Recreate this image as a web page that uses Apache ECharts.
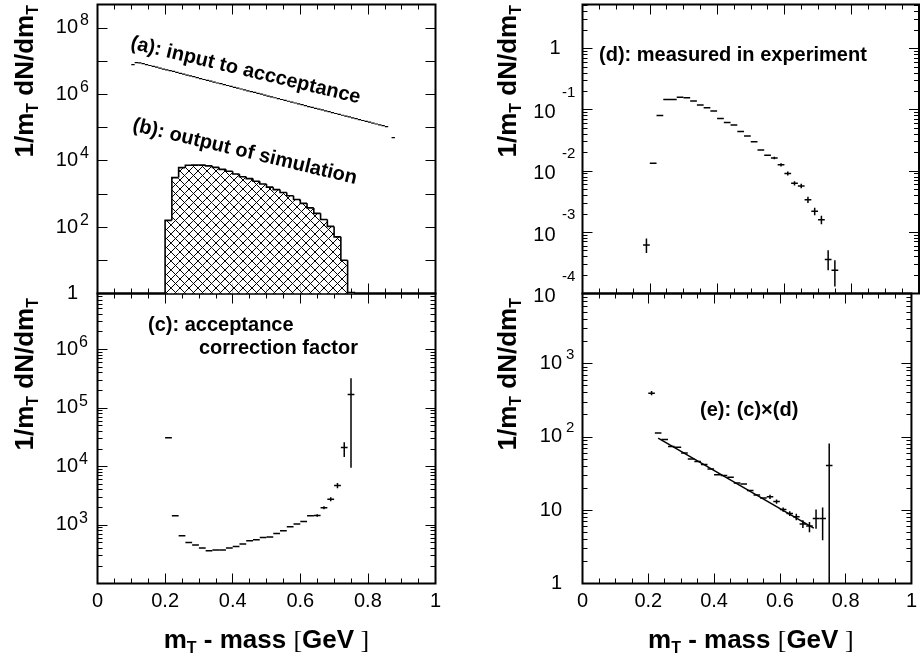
<!DOCTYPE html>
<html lang="en">
<head>
<meta charset="UTF-8">
<title>m_T spectra - acceptance correction</title>
<style>
  * { margin: 0; padding: 0; }
  body { background: #ffffff; }
  #chart { width: 920px; height: 660px; }
</style>
</head>
<body>
<div id="chart"></div>
<script src="https://cdn.jsdelivr.net/npm/echarts@6/dist/echarts.min.js"></script>
<script>
// (a) input to acceptance: low bin edges (bin width 0.01) and contents
var aEdge = [0.10, 0.11, 0.12, 0.13, 0.14, 0.15, 0.16, 0.17, 0.18, 0.19,
  0.20, 0.21, 0.22, 0.23, 0.24, 0.25, 0.26, 0.27, 0.28, 0.29,
  0.30, 0.31, 0.32, 0.33, 0.34, 0.35, 0.36, 0.37, 0.38, 0.39,
  0.40, 0.41, 0.42, 0.43, 0.44, 0.45, 0.46, 0.47, 0.48, 0.49,
  0.50, 0.51, 0.52, 0.53, 0.54, 0.55, 0.56, 0.57, 0.58, 0.59,
  0.60, 0.61, 0.62, 0.63, 0.64, 0.65, 0.66, 0.67, 0.68, 0.69,
  0.70, 0.71, 0.72, 0.73, 0.74, 0.75, 0.76, 0.77, 0.78, 0.79,
  0.80, 0.81, 0.82, 0.83, 0.84, 0.85, 0.87];
var aVal = [7.9e6, 9.0e6, 8.9e6, 8.4e6, 7.9e6, 7.4e6, 7.0e6, 6.6e6, 6.2e6, 5.8e6,
  5.5e6, 5.2e6, 4.9e6, 4.6e6, 4.3e6, 4.05e6, 3.8e6, 3.6e6, 3.4e6, 3.2e6,
  3.0e6, 2.8e6, 2.65e6, 2.5e6, 2.35e6, 2.2e6, 2.1e6, 1.96e6, 1.85e6, 1.73e6,
  1.63e6, 1.54e6, 1.45e6, 1.36e6, 1.28e6, 1.21e6, 1.14e6, 1.07e6, 1.01e6, 9.5e5,
  8.9e5, 8.4e5, 7.9e5, 7.4e5, 7.0e5, 6.6e5, 6.2e5, 5.8e5, 5.5e5, 5.2e5,
  4.9e5, 4.6e5, 4.3e5, 4.05e5, 3.8e5, 3.6e5, 3.4e5, 3.2e5, 3.0e5, 2.8e5,
  2.65e5, 2.5e5, 2.35e5, 2.2e5, 2.1e5, 1.96e5, 1.85e5, 1.73e5, 1.63e5, 1.54e5,
  1.45e5, 1.36e5, 1.28e5, 1.21e5, 1.14e5, 1.07e5, 5.0e4];

// (b) output of simulation: low bin edges (bin width 0.02) and contents
var bEdge = [0.20, 0.22, 0.24, 0.26, 0.28, 0.30, 0.32, 0.34, 0.36, 0.38,
  0.40, 0.42, 0.44, 0.46, 0.48, 0.50, 0.52, 0.54, 0.56, 0.58,
  0.60, 0.62, 0.64, 0.66, 0.68, 0.70, 0.72, 0.74];
var bVal = [160, 3100, 6200, 7300, 7400, 7400, 7000, 6300, 5500, 4800,
  4000, 3300, 2900, 2400, 2000, 1600, 1350, 1100, 880, 680,
  520, 380, 260, 170, 105, 51, 10, 1.07];

// (c) acceptance correction factor (bin centres, values, error bar ends)
var cX = [0.21, 0.23, 0.25, 0.27, 0.29, 0.31, 0.33, 0.35, 0.37, 0.39,
  0.41, 0.43, 0.45, 0.47, 0.49, 0.51, 0.53, 0.55, 0.57, 0.59,
  0.61, 0.63, 0.65, 0.67, 0.69, 0.71, 0.73, 0.75];
var cVal = [3.1e4, 1430, 656, 500, 455, 403, 363, 372, 372, 403,
  430, 472, 538, 560, 612, 620, 718, 800, 935, 1040,
  1150, 1430, 1450, 1960, 2750, 4700, 2.1e4, 1.7e5];
var cLo = [null, null, null, null, null, null, null, null, null, null,
  null, null, null, null, null, null, null, null, null, null,
  null, null, 1380, 1850, 2550, 4250, 1.45e4, 9.5e3];
var cHi = [null, null, null, null, null, null, null, null, null, null,
  null, null, null, null, null, null, null, null, null, null,
  null, null, 1520, 2080, 2970, 5200, 2.6e4, 3.2e5];

// (d) measured in experiment
var dX = [0.19, 0.21, 0.23, 0.25, 0.27, 0.29, 0.31, 0.33, 0.35, 0.37,
  0.39, 0.41, 0.43, 0.45, 0.47, 0.49, 0.51, 0.53, 0.55, 0.57,
  0.59, 0.61, 0.63, 0.65, 0.67, 0.69, 0.71, 0.73, 0.75];
var dVal = [6.2e-4, 0.0133, 0.080, 0.147, 0.147, 0.159, 0.157, 0.138, 0.119, 0.107,
  0.095, 0.072, 0.062, 0.056, 0.044, 0.037, 0.030, 0.022, 0.018, 0.0163,
  0.0126, 0.0091, 0.0063, 0.0057, 0.0034, 0.0022, 0.0016, 3.6e-4, 2.4e-4];
var dLo = [4.6e-4, null, null, null, null, null, null, null, null, null,
  null, null, null, null, null, null, null, null, null, 0.0155,
  0.0118, 0.0084, 0.0058, 0.0052, 0.0030, 0.0019, 0.00135, 2.4e-4, 1.3e-4];
var dHi = [7.9e-4, null, null, null, null, null, null, null, null, null,
  null, null, null, null, null, null, null, null, null, 0.0171,
  0.0134, 0.0098, 0.0068, 0.0062, 0.0038, 0.0025, 0.00185, 5.1e-4, 3.5e-4];

// (e) corrected spectrum = (c) x (d), with exponential fit
var eX = [0.21, 0.23, 0.25, 0.27, 0.29, 0.31, 0.33, 0.35, 0.37, 0.39,
  0.41, 0.43, 0.45, 0.47, 0.49, 0.51, 0.53, 0.55, 0.57, 0.59,
  0.61, 0.63, 0.65, 0.67, 0.69, 0.71, 0.73, 0.75];
var eVal = [394, 113, 92, 74, 72, 60, 50, 46, 42, 36.5,
  30.5, 29.6, 28, 23.5, 22.8, 18.5, 16.1, 14.7, 15.2, 13.1,
  10.2, 9.0, 8.1, 6.5, 6.1, 7.7, 7.7, 40.5];
var eLo = [370, null, null, null, null, null, null, null, null, null,
  null, null, null, null, null, null, null, null, 14.2, 12.2,
  9.5, 8.3, 7.3, 5.7, 5.0, 5.6, 3.9, 0.5];
var eHi = [420, null, null, null, null, null, null, null, null, null,
  null, null, null, null, null, null, null, null, 16.2, 14.0,
  10.9, 9.7, 8.9, 7.3, 6.9, 10.2, 10.9, 81];
var fitX = [0.23, 0.703];
var fitY = [96, 5.7];

// axis ranges (panels: a+b, c, d, e)
var yMin = [1, 100, 1e-4, 1];
var yMax = [5.1e8, 9e6, 5.2, 9000];
var yMajor = [
  [1, 1e1, 1e2, 1e3, 1e4, 1e5, 1e6, 1e7, 1e8],
  [1e2, 1e3, 1e4, 1e5, 1e6],
  [1e-4, 1e-3, 1e-2, 1e-1, 1],
  [1, 10, 100, 1000]
];
var yLabeled = [
  [1, 1e2, 1e4, 1e6, 1e8],
  [1e3, 1e4, 1e5, 1e6],
  [1e-4, 1e-3, 1e-2, 1e-1, 1],
  [1, 10, 100, 1000]
];
var hasMinor = [false, true, true, true];

var FONT = "'Liberation Sans', Arial, Helvetica, sans-serif";
var A_W = 0.01, B_W = 0.02, PT_HALF = 0.01;

var panels = [
  {left: 97.5, top: 4.5, width: 338, height: 289, xLab: false,
   baseMargin: 19.5, tenPad: [0, 0, 0, 0], supMargin: 17.5, supSize: 16, supPad: 14},
  {left: 97.5, top: 293.5, width: 338, height: 290, xLab: true,
   baseMargin: 19.5, tenPad: [0, 0, 0, 0], supMargin: 18.5, supSize: 16, supPad: 13},
  {left: 582.5, top: 4.5, width: 336.5, height: 289, xLab: false,
   baseMargin: 22, tenPad: [6, 5, 0, 0], supMargin: 20.5, supSize: 15, supPad: 34},
  {left: 582.5, top: 293.5, width: 336.5, height: 290, xLab: true,
   baseMargin: 20.5, tenPad: [0, 0, 0, 0], supMargin: 16.5, supSize: 15, supPad: 17}
];

function minorTicks(lo, hi) {
  var out = [];
  for (var e = Math.floor(Math.log10(lo)); e <= Math.ceil(Math.log10(hi)); e++) {
    for (var k = 2; k <= 9; k++) {
      var v = k * Math.pow(10, e);
      if (v > lo && v < hi) out.push(v);
    }
  }
  return out;
}

function expOf(v) { return Math.round(Math.log10(v)); }

function hatch() {
  var c = document.createElement('canvas');
  c.width = 9; c.height = 9;
  var g = c.getContext('2d');
  g.fillStyle = '#fff';
  g.fillRect(0, 0, 9, 9);
  g.strokeStyle = '#000';
  g.lineWidth = 1;
  g.beginPath();
  g.moveTo(0, 0); g.lineTo(9, 9);
  g.moveTo(9, 0); g.lineTo(0, 9);
  g.stroke();
  return c;
}
var hatchFill = {image: hatch(), repeat: 'repeat'};

var tickStyle = {color: '#000', width: 1};
var grids = [], xAxes = [], yAxes = [];

panels.forEach(function (p, g) {
  grids.push({left: p.left, top: p.top, width: p.width, height: p.height,
    show: true, borderColor: '#000', borderWidth: 2, backgroundColor: 'transparent'});

  ['bottom', 'top'].forEach(function (pos) {
    xAxes.push({
      type: 'value', gridIndex: g, position: pos, min: 0, max: 1, interval: 0.2,
      axisLine: {show: false}, splitLine: {show: false},
      axisTick: {show: true, inside: true, length: 10, lineStyle: tickStyle},
      minorTick: {show: true, splitNumber: 4, length: 5, lineStyle: tickStyle},
      axisLabel: {
        show: p.xLab && pos === 'bottom', margin: 8, color: '#000',
        fontFamily: FONT, fontSize: 20,
        formatter: function (v) { return String(Math.round(v * 10) / 10); }
      }
    });
  });

  function logAxis(extra) {
    var ax = {type: 'log', logBase: 10, gridIndex: g, min: yMin[g], max: yMax[g],
      axisLine: {show: false}, splitLine: {show: false},
      axisLabel: {show: false}, axisTick: {show: false}};
    for (var k in extra) ax[k] = extra[k];
    return ax;
  }
  var minors = hasMinor[g] ? minorTicks(yMin[g], yMax[g]) : [];

  // left: base labels + major ticks
  yAxes.push(logAxis({
    position: 'left',
    axisTick: {show: true, inside: true, length: 10, lineStyle: tickStyle, customValues: yMajor[g]},
    axisLabel: {
      show: true, customValues: yLabeled[g], margin: p.baseMargin, color: '#000',
      fontFamily: FONT, fontSize: 20,
      formatter: function (v) {
        var e = expOf(v);
        return e === 0 ? '{one|1}' : '{ten|10}';
      },
      rich: {
        one: {fontFamily: FONT, fontSize: 20, color: '#000'},
        ten: {fontFamily: FONT, fontSize: 20, color: '#000', padding: p.tenPad}
      }
    }
  }));
  // left: exponents
  yAxes.push(logAxis({
    position: 'left',
    axisLabel: {
      show: true, align: 'left', margin: p.supMargin, color: '#000',
      customValues: yLabeled[g].filter(function (v) { var e = expOf(v); return e !== 0 && e !== 1; }),
      formatter: function (v) { return '{s|' + expOf(v) + '}'; },
      rich: {s: {fontFamily: FONT, fontSize: p.supSize, color: '#000', padding: [0, 0, p.supPad, 0]}}
    }
  }));
  // left: minor ticks
  yAxes.push(logAxis({
    position: 'left',
    axisTick: {show: minors.length > 0, inside: true, length: 5, lineStyle: tickStyle, customValues: minors}
  }));
  // right: major + minor ticks
  yAxes.push(logAxis({
    position: 'right',
    axisTick: {show: true, inside: true, length: 10, lineStyle: tickStyle, customValues: yMajor[g]}
  }));
  yAxes.push(logAxis({
    position: 'right',
    axisTick: {show: minors.length > 0, inside: true, length: 5, lineStyle: tickStyle, customValues: minors}
  }));
});

function line(p1, p2, w) {
  return {type: 'line', shape: {x1: p1[0], y1: p1[1], x2: p2[0], y2: p2[1]},
    style: {stroke: '#000', lineWidth: w}};
}

function renderBins(params, api) {
  var x0 = api.value(0), y = api.value(1);
  return line(api.coord([x0, y]), api.coord([x0 + A_W, y]), 1.2);
}

function renderHist(params, api) {
  var i = params.dataIndex;
  var x0 = api.value(0), y = api.value(1);
  var tl = api.coord([x0, y]);
  var br = api.coord([x0 + B_W, yMin[0]]);
  var prevY = i > 0 ? api.coord([x0, bVal[i - 1]])[1] : br[1];
  var pts = [[tl[0], prevY], [tl[0], tl[1]], [br[0], tl[1]]];
  if (i === bVal.length - 1) pts.push([br[0], br[1]]);
  return {type: 'group', children: [
    {type: 'rect', shape: {x: tl[0], y: tl[1], width: br[0] - tl[0], height: br[1] - tl[1]},
      style: {fill: hatchFill, stroke: null}},
    {type: 'polyline', shape: {points: pts}, style: {stroke: '#000', lineWidth: 1.6, fill: null}}
  ]};
}

function renderPoint(params, api) {
  var x = api.value(0), y = api.value(1), lo = api.value(2), hi = api.value(3);
  var kids = [line(api.coord([x - PT_HALF, y]), api.coord([x + PT_HALF, y]), 1.5)];
  if (hi > lo) kids.push(line(api.coord([x, hi]), api.coord([x, lo]), 1.5));
  return {type: 'group', children: kids};
}

function pointData(xs, vals, lo, hi) {
  return xs.map(function (x, i) {
    return [x, vals[i], lo[i] == null ? vals[i] : lo[i], hi[i] == null ? vals[i] : hi[i]];
  });
}

var series = [
  {type: 'custom', name: '(a)', xAxisIndex: 0, yAxisIndex: 0, clip: true,
   encode: {x: 0, y: 1}, renderItem: renderBins,
   data: aEdge.map(function (x, i) { return [x, aVal[i]]; })},
  {type: 'custom', name: '(b)', xAxisIndex: 0, yAxisIndex: 0, clip: true,
   encode: {x: 0, y: 1}, renderItem: renderHist,
   data: bEdge.map(function (x, i) { return [x, bVal[i]]; })},
  {type: 'custom', name: '(c)', xAxisIndex: 2, yAxisIndex: 5, clip: true,
   encode: {x: 0, y: 1}, renderItem: renderPoint, data: pointData(cX, cVal, cLo, cHi)},
  {type: 'custom', name: '(d)', xAxisIndex: 4, yAxisIndex: 10, clip: true,
   encode: {x: 0, y: 1}, renderItem: renderPoint, data: pointData(dX, dVal, dLo, dHi)},
  {type: 'custom', name: '(e)', xAxisIndex: 6, yAxisIndex: 15, clip: true,
   encode: {x: 0, y: 1}, renderItem: renderPoint, data: pointData(eX, eVal, eLo, eHi)},
  {type: 'line', name: 'fit', xAxisIndex: 6, yAxisIndex: 15, showSymbol: false, silent: true,
   lineStyle: {color: '#000', width: 1.5},
   data: fitX.map(function (x, i) { return [x, fitY[i]]; })}
];

var titleRich = {
  b: {fontFamily: FONT, fontSize: 26, fontWeight: 'bold', color: '#000'},
  s: {fontFamily: FONT, fontSize: 16, fontWeight: 'bold', color: '#000', padding: [16, 0, 0, 0]},
  br: {fontFamily: "'Liberation Serif', serif", fontSize: 26, color: '#000'}
};

function yTitle(x, y) {
  return {type: 'text', x: x, y: y, rotation: Math.PI / 2,
    style: {text: '{b|1/m}{s|T}{b| dN/dm}{s|T}', rich: titleRich,
      align: 'right', verticalAlign: 'middle', textAlign: 'right', textVerticalAlign: 'middle'}};
}
function xTitle(x, y) {
  return {type: 'text', x: x, y: y,
    style: {text: '{b|m}{s|T}{b| - mass }{br|[}{b|GeV}{br| ]}', rich: titleRich,
      align: 'center', verticalAlign: 'middle', textAlign: 'center', textVerticalAlign: 'middle'}};
}
function note(x, y, text, rot) {
  return {type: 'text', x: x, y: y, rotation: rot || 0,
    style: {text: text, fill: '#000', font: 'bold 20px ' + FONT,
      align: 'left', verticalAlign: 'middle', textAlign: 'left', textVerticalAlign: 'middle'}};
}
var tilt = -13.5 * Math.PI / 180;

var graphics = [
  yTitle(26, 5), yTitle(26, 298), yTitle(509, 5), yTitle(509, 298),
  xTitle(266.5, 641), xTitle(750.8, 641),
  note(131, 43, '(a): input to accceptance', tilt),
  note(133, 125, '(b): output of simulation', tilt),
  note(148, 325.5, '(c): acceptance'),
  note(199, 348, 'correction factor'),
  note(599, 55, '(d): measured in experiment'),
  note(700, 410, '(e): (c)\u00d7(d)')
];

var chart = echarts.init(document.getElementById('chart'));
chart.setOption({
  animation: false,
  backgroundColor: '#fff',
  grid: grids,
  xAxis: xAxes,
  yAxis: yAxes,
  series: series,
  graphic: graphics
});
</script>
</body>
</html>
